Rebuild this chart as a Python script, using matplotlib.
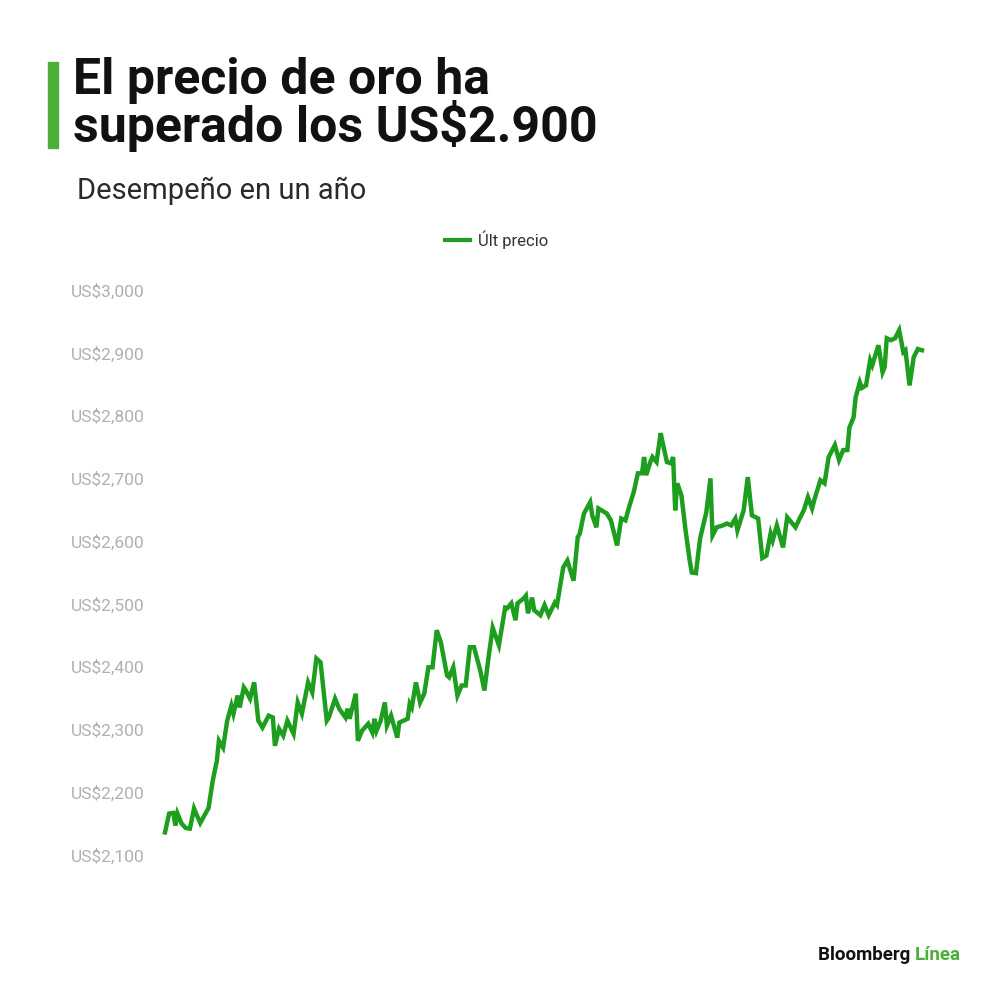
import matplotlib.pyplot as plt
from matplotlib.lines import Line2D

# dia del periodo (0 = inicio, 365 = fin) y precio del oro
dias = [0, 2, 4, 5, 6, 8, 10, 12, 14, 15, 17, 19, 21, 23, 25, 26, 28, 30, 32, 33,
        35, 36, 38, 39, 41, 43, 45, 47, 50, 52, 53, 55, 57, 59, 62, 64, 66, 69, 71, 73,
        75, 78, 79, 82,
        84, 87, 88, 89, 92, 93, 95, 98, 100, 101, 102, 104, 106, 107, 109, 112, 113, 117, 118, 119,
        121, 123, 125, 127, 129, 131, 133, 136, 137, 139, 141, 143, 145, 147, 149, 152, 154, 156, 158, 161,
        164, 165, 167, 169, 170, 173, 174, 175, 177, 178, 181,
        183, 185, 188, 189, 192, 194, 197, 199, 200, 202, 205, 206, 208, 209, 213, 215, 218, 220, 222, 224,
        226, 228, 230, 231, 232, 234, 235, 237, 239, 240, 242, 244, 245, 246, 247, 249, 251, 253, 254, 256,
        258, 261, 263, 264,
        266, 269, 271, 273, 275, 276, 279, 281, 283, 286, 288, 290, 292, 293, 295, 298, 300, 304, 306, 308,
        310, 312, 313, 316, 318, 320, 323, 325, 327, 329, 330, 332, 333, 335, 336, 338, 340, 341, 344, 346,
        347, 348, 350, 352, 354, 356, 357, 359, 361, 363, 365]

precio = [2136, 2166, 2167, 2147, 2166, 2150, 2143, 2142, 2174, 2166, 2151, 2163, 2175, 2218, 2250, 2282, 2271, 2314, 2338, 2325,
          2354, 2335, 2367, 2362, 2349, 2375, 2314, 2303, 2322, 2319, 2274, 2301, 2290, 2314, 2293, 2343, 2325, 2375, 2359, 2413,
          2407, 2314, 2319, 2349,
          2333, 2319, 2333, 2317, 2357, 2282, 2298, 2309, 2295, 2317, 2298, 2314, 2343, 2306, 2322, 2287, 2311, 2317, 2341, 2335,
          2375, 2343, 2357, 2399, 2399, 2458, 2439, 2386, 2383, 2399, 2354, 2370, 2370, 2431, 2431, 2394, 2362, 2415, 2462, 2434,
          2494, 2493, 2501, 2474, 2501, 2509, 2513, 2485, 2510, 2490, 2482,
          2498, 2482, 2502, 2498, 2558, 2569, 2537, 2606, 2612, 2644, 2662, 2641, 2622, 2652, 2644, 2633, 2593, 2636, 2633, 2657,
          2678, 2708, 2708, 2734, 2705, 2726, 2734, 2726, 2772, 2756, 2726, 2724, 2734, 2649, 2692, 2673, 2617, 2569, 2550, 2549,
          2604, 2646, 2700, 2609,
          2622, 2625, 2628, 2625, 2636, 2617, 2649, 2702, 2641, 2636, 2573, 2577, 2612, 2601, 2625, 2590, 2638, 2622, 2636, 2649,
          2670, 2652, 2665, 2697, 2692, 2734, 2753, 2729, 2745, 2745, 2781, 2797, 2829, 2853, 2844, 2848, 2888, 2880, 2912, 2869,
          2877, 2923, 2920, 2923, 2936, 2901, 2904, 2848, 2893, 2906, 2904]

niveles = [2100, 2200, 2300, 2400, 2500, 2600, 2700, 2800, 2900, 3000]
etiquetas = ["US$" + f"{n:,}" for n in niveles]

verde = "#1e9e1e"

plt.rcParams['font.family'] = ['Roboto', 'DejaVu Sans']

fig = plt.figure(figsize=(10, 10), dpi=100)
ax = fig.add_axes([0.165, 0.145, 0.757, 0.565])

ax.plot(dias, precio, color=verde, lw=3.2, solid_joinstyle='miter', clip_on=False)
ax.set_xlim(0, 365)
ax.set_ylim(2100, 3000)
ax.set_yticks(niveles)
ax.set_yticklabels(etiquetas, color="#b0b0b0", fontsize=12.5)
for lab in ax.get_yticklabels():
    lab.set_ha('left')
ax.tick_params(axis='y', length=0, pad=68)
ax.set_xticks([])
for s in ax.spines.values():
    s.set_visible(False)

# titulo y barra verde
fig.patches.append(plt.Rectangle((0.048, 0.852), 0.01, 0.086, transform=fig.transFigure,
                                 color="#4caf3a", zorder=5))
fig.text(0.073, 0.848, "El precio de oro ha\nsuperado los US$2.900", fontsize=36,
         fontweight='bold', color="#111111", linespacing=0.9, va='bottom', ha='left')
fig.text(0.077, 0.795, "Desempeño en un año", fontsize=21, color="#2a2a2a",
         va='bottom', ha='left')

# leyenda
fig.lines.append(Line2D([0.445, 0.470], [0.760, 0.760], transform=fig.transFigure,
                        color=verde, lw=3))
fig.text(0.478, 0.760, "Últ precio", fontsize=12, color="#333333", va='center', ha='left')

# marca
t = fig.text(0.818, 0.045, "Bloomberg ", fontsize=13.5, fontweight='bold', color="#111111",
             va='center', ha='left')
fig.canvas.draw()
bb = t.get_window_extent().transformed(fig.transFigure.inverted())
fig.text(bb.x1, 0.045, "Línea", fontsize=13.5, fontweight='bold', color="#4caf3a",
         va='center', ha='left')

plt.savefig("out.png")
